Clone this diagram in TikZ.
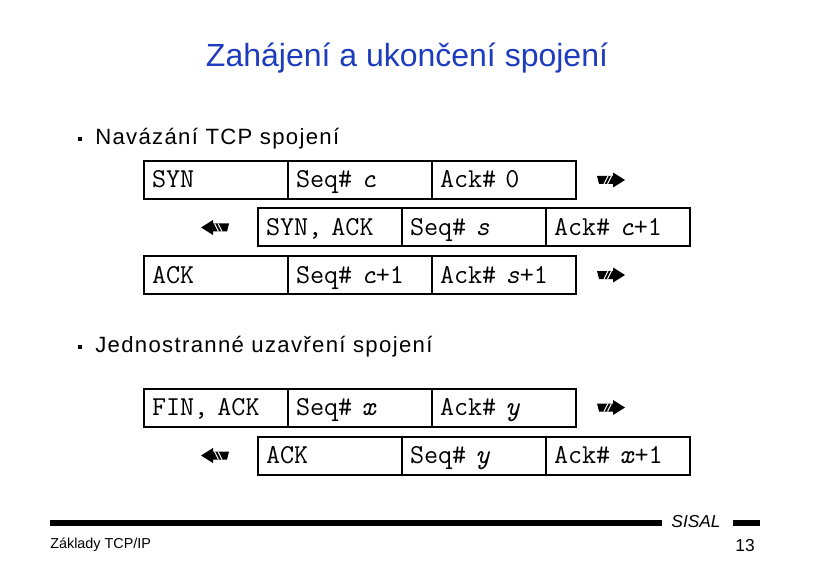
\documentclass[tikz,border=0pt]{standalone}
\usepackage{fontspec}
\setmainfont{Liberation Sans}
\newfontfamily\bulletfont[LetterSpace=6]{Liberation Sans}
\definecolor{titleblue}{RGB}{30,60,190}
\tikzset{
  cell/.style={draw, line width=1.5pt, minimum width=108pt, minimum height=28.5pt,
    text width=96pt, inner xsep=6pt, inner ysep=0pt, align=left,
    text height=14pt, text depth=2pt,
    font=\fontsize{20.5pt}{22pt}\selectfont\ttfamily},
  bullettext/.style={anchor=west, inner sep=0pt, font=\fontsize{16.6pt}{19pt}\bulletfont},
  bulletdot/.style={fill=black, minimum size=2.6pt, inner sep=0pt},
  arrowshape/.pic={
    \fill[black] (-14,-4) -- (2,-4) -- (2,-7.5) -- (14,0) -- (2,7.5) -- (2,4) -- (-12,4) -- cycle;
    \draw[white, line width=0.8pt] (-7,4) -- (-3,-4) (-3.5,4) -- (0.5,-4);
  }
}
\begin{document}
\begin{tikzpicture}[x=0.75pt, y=-0.75pt]
\useasboundingbox (0,0) rectangle (813,570);
% title
\node[font=\fontsize{24pt}{28pt}\selectfont, text=titleblue] (title) at (407,58) {Zahájení a ukončení spojení};
% section 1
\node[bulletdot] (d1) at (80,139) {};
\node[bullettext] (b1) at (95,139) {Navázání TCP spojení};
\node[cell] (r1a) at (216,180) {SYN};
\node[cell] (r1b) at (360,180) {Seq\# \textit{c}};
\node[cell] (r1c) at (504,180) {Ack\# 0};
\pic (a1) at (611,180) {arrowshape};
\node[cell] (r2a) at (330,227.5) {SYN, ACK};
\node[cell] (r2b) at (474,227.5) {Seq\# \textit{s}};
\node[cell] (r2c) at (618,227.5) {Ack\# \textit{c}+1};
\pic[xscale=-1] (a2) at (215,227.5) {arrowshape};
\node[cell] (r3a) at (216,275) {ACK};
\node[cell] (r3b) at (360,275) {Seq\# \textit{c}+1};
\node[cell] (r3c) at (504,275) {Ack\# \textit{s}+1};
\pic (a3) at (611,275) {arrowshape};
% section 2
\node[bulletdot] (d2) at (80,347) {};
\node[bullettext] (b2) at (95,347) {Jednostranné uzavření spojení};
\node[cell] (r4a) at (216,407.5) {FIN, ACK};
\node[cell] (r4b) at (360,407.5) {Seq\# \textit{x}};
\node[cell] (r4c) at (504,407.5) {Ack\# \textit{y}};
\pic (a4) at (611,407.5) {arrowshape};
\node[cell] (r5a) at (330,455.5) {ACK};
\node[cell] (r5b) at (474,455.5) {Seq\# \textit{y}};
\node[cell] (r5c) at (618,455.5) {Ack\# \textit{x}+1};
\pic[xscale=-1] (a5) at (215,455.5) {arrowshape};
% footer
\coordinate (l1) at (50,523);
\coordinate (l2) at (662,523);
\coordinate (l3) at (733,523);
\coordinate (l4) at (760,523);
\draw[line width=3.8pt] (l1) -- (l2);
\draw[line width=3.8pt] (l3) -- (l4);
\node[font=\fontsize{13pt}{15pt}\selectfont\itshape, anchor=center] (sisal) at (696,522) {SISAL};
\node[font=\fontsize{10.8pt}{12pt}\selectfont, anchor=west, inner sep=0pt] (zak) at (50,545) {Základy TCP/IP};
\node[font=\fontsize{13pt}{15pt}\selectfont, anchor=center] (num) at (745,546) {13};
\end{tikzpicture}
\end{document}
